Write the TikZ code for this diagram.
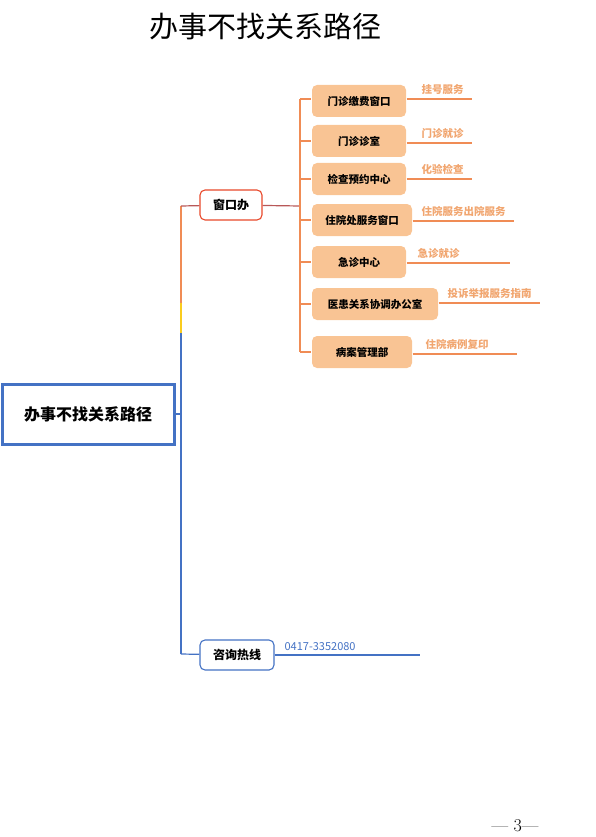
\documentclass[tikz,border=0pt]{standalone}
\usepackage{fontspec}
\newfontfamily\cjk{Noto Sans CJK SC}
\usetikzlibrary{positioning}
\definecolor{rootblue}{RGB}{68,114,196}
\definecolor{peach}{RGB}{249,196,148}
\definecolor{branchor}{RGB}{240,140,85}
\definecolor{labelor}{RGB}{241,166,112}
\definecolor{redline}{RGB}{232,72,42}
\definecolor{darkred}{RGB}{184,88,88}
\definecolor{trunkyel}{RGB}{250,204,30}
\begin{document}
\begin{tikzpicture}[x=1pt, y=-1pt, line width=1.2pt,
	every node/.style={font=\cjk, inner sep=0pt},
	rootbox/.style={rectangle, draw=rootblue, line width=3pt, fill=white, minimum width=172pt, minimum height=60pt, font=\cjk\bfseries\fontsize{16}{18}\selectfont},
	midbox/.style={rectangle, rounded corners=5pt, draw, line width=1.1pt, fill=white, minimum height=30pt, font=\cjk\bfseries\fontsize{12}{14}\selectfont},
	leaf/.style={rectangle, rounded corners=5pt, fill=peach, minimum height=32pt, font=\cjk\bfseries\fontsize{10.5}{12}\selectfont},
	note/.style={anchor=south west, text=labelor, font=\cjk\bfseries\fontsize{10.5}{12}\selectfont, inner sep=1pt}]
	\useasboundingbox (0,0) rectangle (595,837);
	% Title and root
	\node (title) at (265,27) {\fontsize{29}{32}\selectfont 办事不找关系路径};
	\node[rootbox] (root) at (88,414) {办事不找关系路径};
	\node[midbox, draw=redline, minimum width=62pt] (window) at (231,205) {窗口办};
	\node[midbox, draw=rootblue, minimum width=74pt] (hotline) at (237,655) {咨询热线};
	% Leaves
	\node[leaf, minimum width=94pt] (jiaofei) at (359,101) {门诊缴费窗口};
	\node[leaf, minimum width=94pt] (zhenshi) at (359,141) {门诊诊室};
	\node[leaf, minimum width=94pt] (jiancha) at (359,179) {检查预约中心};
	\node[leaf, minimum width=100pt] (zhuyuan) at (362,220) {住院处服务窗口};
	\node[leaf, minimum width=94pt] (jizhen) at (359,262) {急诊中心};
	\node[leaf, minimum width=126pt] (yihuan) at (375,304) {医患关系协调办公室};
	\node[leaf, minimum width=100pt] (bingan) at (362,352) {病案管理部};
	% Joints
	\coordinate (ttop) at (181,206);
	\coordinate (tmid) at (181,414);
	\coordinate (tbot) at (181,654);
	\coordinate (fork) at (300,206);
	\coordinate (ftop) at (300,99);
	\coordinate (fbot) at (300,352);
	% Trunk
	\draw[branchor] (ttop) -- (181,303);
	\draw[trunkyel] (181,303) -- (181,333);
	\draw[rootblue] (181,333) -- (tbot);
	\draw[rootblue] (root) -- (tmid);
	\draw[darkred] (ttop) -- (window);
	\draw[rootblue] (tbot) -- (hotline);
	\draw[darkred] (window) -- (fork);
	\draw[branchor] (ftop) -- (fbot);
	\foreach \n/\y in {jiaofei/99, zhenshi/141, jiancha/179, zhuyuan/220, jizhen/262, yihuan/304, bingan/352}
		\draw[branchor] (300,\y) -- (\n.west |- 0,\y);
	% Notes
	\coordinate (e1) at (472,99);
	\coordinate (e2) at (472,143);
	\coordinate (e3) at (472,179);
	\coordinate (e4) at (514,221);
	\coordinate (e5) at (510,263);
	\coordinate (e6) at (540,303);
	\coordinate (e7) at (517,354);
	\coordinate (e8) at (420,655);
	\draw[branchor] (jiaofei.east |- e1) -- (e1);
	\draw[branchor] (zhenshi.east |- e2) -- (e2);
	\draw[branchor] (jiancha.east |- e3) -- (e3);
	\draw[branchor] (zhuyuan.east |- e4) -- (e4);
	\draw[branchor] (jizhen.east |- e5) -- (e5);
	\draw[branchor] (yihuan.east |- e6) -- (e6);
	\draw[branchor] (bingan.east |- e7) -- (e7);
	\draw[rootblue] (hotline.east |- e8) -- (e8);
	\node[note] (n1) at (420,96) {挂号服务};
	\node[note] (n2) at (420,140) {门诊就诊};
	\node[note] (n3) at (420,176) {化验检查};
	\node[note] (n4) at (420,218) {住院服务出院服务};
	\node[note] (n5) at (416,260) {急诊就诊};
	\node[note] (n6) at (446,300) {投诉举报服务指南};
	\node[note] (n7) at (424,351) {住院病例复印};
	\node[note, text=rootblue, font=\cjk\fontsize{11}{12}\selectfont] (n8) at (283,652) {0417-3352080};
	% Page number
	\node (page) at (515,826) {\rmfamily\fontsize{18}{20}\selectfont — 3—};
\end{tikzpicture}
\end{document}
